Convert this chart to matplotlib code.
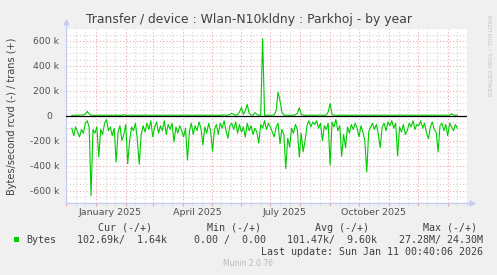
#!/usr/bin/env python3
"""Munin style yearly transfer graph (rcvd drawn below zero, trans above)."""

import matplotlib
matplotlib.use("Agg")
import matplotlib.pyplot as plt
import matplotlib.transforms as mtransforms
from matplotlib.patches import Rectangle
from matplotlib.ticker import FuncFormatter
import numpy as np

W, H = 497, 275
DPI = 100

TITLE = "Transfer / device : Wlan-N10kldny : Parkhoj - by year"
YLABEL = "Bytes/second rcvd (-) / trans (+)"

# one sample every 2 days starting 2024-12-07, values in kB/s
START_DAY = "2024-12-07"
STEP_DAYS = 2

rcvd_k = [
    100, 160, 90, 130, 170, 110, 140, 60, 40, 90, 640, 110, 140, 90, 330, 110, 150, 60, 30, 120,
    90, 160, 100, 370, 130, 80, 200, 150, 70, 385, 200, 90, 120, 60, 190, 390, 150, 80, 130, 60,
    110, 40, 170, 90, 50, 140, 80, 120, 40, 150, 70, 110, 60, 210, 90, 140, 80, 120, 170, 100,
    355, 130, 60, 150, 80, 120, 50, 100, 235, 90, 140, 60, 120, 285, 110, 70, 150, 60, 100, 40,
    120, 180, 80, 60, 110, 50, 140, 70, 130, 90, 170, 60, 120, 80, 150, 100, 130, 220, 70, 100,
    40, 110, 60, 90, 130, 170, 90, 60, 224, 110, 150, 424, 180, 250, 100, 140, 70, 110, 330, 140,
    290, 200, 80, 40, 90, 50, 70, 40, 100, 60, 200, 80, 110, 60, 397, 50, 90, 30, 120, 80,
    325, 150, 256, 90, 140, 70, 110, 60, 100, 170, 80, 130, 200, 450, 130, 90, 60, 110, 70, 150,
    256, 90, 60, 120, 50, 80, 40, 100, 60, 323, 90, 130, 70, 150, 120, 60, 90, 40, 110, 70,
    80, 40, 100, 60, 140, 184, 90, 50, 110, 130, 290, 80, 60, 120, 70, 160, 60, 90, 120, 70,
    100,
]

trans_k = [
    4, 3, 5, 4, 6, 5, 8, 12, 35, 15, 6, 4, 3, 5, 4, 6, 3, 4, 5, 4,
    3, 5, 4, 6, 4, 3, 5, 8, 4, 3, 5, 4, 6, 3, 4, 5, 3, 4, 6, 4,
    5, 3, 4, 6, 4, 5, 3, 4, 5, 3, 4, 6, 4, 3, 5, 4, 3, 5, 4, 6,
    4, 3, 5, 4, 3, 6, 4, 5, 3, 4, 5, 4, 3, 6, 4, 5, 3, 4, 8, 5,
    4, 6, 10, 20, 10, 5, 8, 30, 66, 10, 40, 90, 20, 6, 5, 25, 10, 5, 3, 620,
    5, 4, 6, 3, 5, 8, 40, 190, 120, 30, 6, 4, 5, 3, 6, 4, 8, 20, 64, 10,
    5, 4, 3, 6, 4, 5, 3, 4, 6, 5, 3, 4, 6, 30, 97, 10, 5, 4, 3, 5,
    4, 6, 3, 5, 4, 3, 5, 4, 6, 3, 5, 4, 3, 6, 4, 5, 3, 4, 5, 4,
    3, 5, 4, 6, 3, 4, 5, 3, 4, 6, 4, 5, 3, 4, 6, 3, 5, 4, 3, 5,
    4, 6, 3, 5, 4, 3, 5, 4, 6, 3, 4, 5, 3, 6, 4, 5, 4, 16, 5, 4,
    5,
]

X_START = "2024-12-06T12:00"
X_END = "2026-01-11T00:40"
Y_MIN, Y_MAX = -700000, 700000
Y_MAJOR = [-600000, -400000, -200000, 0, 200000, 400000, 600000]

QUARTER_LABELS = ["January 2025", "April 2025", "July 2025", "October 2025"]
QUARTER_MID = ["2025-01-16", "2025-04-16", "2025-07-16", "2025-10-16"]

legend_heads = ["Cur (-/+)", "Min (-/+)", "Avg (-/+)", "Max (-/+)"]
legend_vals = ["102.69k/  1.64k", "0.00 /  0.00", "101.47k/  9.60k", "27.28M/ 24.30M"]
last_update = "Last update: Sun Jan 11 00:40:06 2026"
munin_ver = "Munin 2.0.76"

GREEN = "#00CC00"
AXIS_C = "#C4CCF4"
MGRID_C = "#EFA5A5"
GRID_C = "#D4D4D4"
TEXT_C = "#404040"
BG = "#F0F0F0"


def fx(x):
    return x / W


def fy(y):
    return 1 - y / H


def ytick_fmt(v, _pos):
    if v == 0:
        return "0  "
    return f"{int(round(v / 1000))} k"


def main() -> None:
    days = np.datetime64(START_DAY) + np.arange(len(rcvd_k)) * np.timedelta64(STEP_DAYS, "D")
    rcvd = -np.asarray(rcvd_k, dtype=float) * 1000
    trans = np.asarray(trans_k, dtype=float) * 1000

    fig = plt.figure(figsize=(W / DPI, H / DPI), dpi=DPI, facecolor=BG)
    ax = fig.add_axes([fx(66), fy(203), fx(467) - fx(66), fy(28.5) - fy(203)])
    ax.set_facecolor("white")

    x0 = np.datetime64(X_START)
    x1 = np.datetime64(X_END)
    ax.set_xlim(x0, x1)
    ax.set_ylim(Y_MIN, Y_MAX)

    # grid: red dotted on month starts / 200k, grey dotted in between
    months = np.arange("2024-12", "2026-02", dtype="datetime64[M]").astype("datetime64[D]")
    minor_x = []
    for m in months:
        for off in (10, 20):
            minor_x.append(m + np.timedelta64(off, "D"))
    ax.set_xticks(months)
    ax.set_xticks(minor_x, minor=True)
    ax.set_yticks(Y_MAJOR)
    ax.set_yticks(np.arange(Y_MIN, Y_MAX + 1, 50000), minor=True)
    ax.grid(which="minor", color=GRID_C, linestyle=(0, (1, 2)), linewidth=0.8)
    ax.grid(which="major", color=MGRID_C, linestyle=(0, (1, 2)), linewidth=0.8)
    ax.set_axisbelow(True)

    ax.yaxis.set_major_formatter(FuncFormatter(ytick_fmt))
    ax.set_xticklabels([])
    ax.tick_params(axis="x", which="both", length=2, color=MGRID_C)
    ax.tick_params(axis="x", which="minor", color=GRID_C)
    ax.tick_params(axis="y", which="both", length=0, pad=4.8, labelsize=6.7, labelcolor="#505050")

    for spine in ("top", "right"):
        ax.spines[spine].set_visible(False)
    for spine in ("left", "bottom"):
        ax.spines[spine].set_color(AXIS_C)
        ax.spines[spine].set_linewidth(0.9)

    ax.plot(days, rcvd, color=GREEN, linewidth=0.8, zorder=4)
    ax.plot(days, trans, color=GREEN, linewidth=0.8, zorder=4)
    ax.axhline(0, color="black", linewidth=0.9, zorder=5)

    # axis arrows
    ax.plot([0, 0], [1.0, 1.03], transform=ax.transAxes, clip_on=False, color=AXIS_C, lw=0.9)
    ax.plot([0], [1.035], transform=ax.transAxes, clip_on=False, marker="^", ms=3.5,
            color=AXIS_C, linestyle="none")
    ax.plot([1.0, 1.01], [0, 0], transform=ax.transAxes, clip_on=False, color=AXIS_C, lw=0.9)
    ax.plot([1.012], [0], transform=ax.transAxes, clip_on=False, marker=">", ms=3.5,
            color=AXIS_C, linestyle="none")

    trans_blend = mtransforms.blended_transform_factory(ax.transData, ax.transAxes)
    for lab, mid in zip(QUARTER_LABELS, QUARTER_MID):
        ax.text(np.datetime64(mid), (203 - 212.3) / (203 - 28.5), lab, transform=trans_blend,
                ha="center", va="center", fontsize=6.8, color="#505050")

    fig.text(fx(248.5), fy(19.5), TITLE, ha="center", va="center", fontsize=8.9, color=TEXT_C)
    fig.text(fx(12), fy(116), YLABEL, rotation=90, ha="center", va="center",
             fontsize=7, color=TEXT_C)
    fig.text(fx(489), fy(15), "RRDTOOL / TOBI OETIKER", rotation=270, ha="center", va="top",
             fontsize=4.6, color="#C4C4C4")

    mono = "DejaVu Sans Mono"
    head_x = [98, 207, 315, 423]
    val_x = [77, 194, 287, 399]
    for s, x in zip(legend_heads, head_x):
        fig.text(fx(x), fy(227.7), s, ha="left", va="center", fontsize=7.2,
                 family=mono, color=TEXT_C)
    fig.patches.append(Rectangle((fx(14), fy(242)), fx(5.3), 4.6 / H,
                                 transform=fig.transFigure, facecolor=GREEN,
                                 edgecolor="none"))
    fig.text(fx(26.7), fy(239.7), "Bytes", ha="left", va="center", fontsize=7.2,
             family=mono, color=TEXT_C)
    for s, x in zip(legend_vals, val_x):
        fig.text(fx(x), fy(239.7), s, ha="left", va="center", fontsize=7.2,
                 family=mono, color=TEXT_C)
    fig.text(fx(483), fy(251.7), last_update, ha="right", va="center", fontsize=7.2,
             family=mono, color=TEXT_C)
    fig.text(fx(248), fy(264), munin_ver, ha="center", va="center", fontsize=5.5,
             color="#B8B8B8")

    fig.savefig("out.png", dpi=DPI, facecolor=BG)
    plt.close(fig)


if __name__ == "__main__":
    main()
